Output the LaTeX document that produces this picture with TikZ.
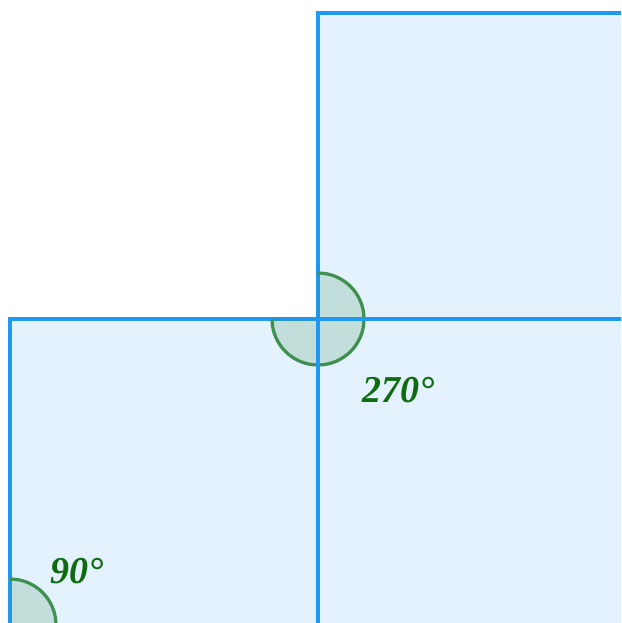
\documentclass[tikz,border=0pt]{standalone}
\usepackage{fontspec}
\setmainfont{Liberation Serif}
\definecolor{sqblue}{HTML}{1E98F2}
\definecolor{sqfill}{HTML}{E3F2FD}
\definecolor{anggreen}{HTML}{3F8F4F}
\definecolor{labgreen}{HTML}{0E6B0E}
\tikzset{
  square/.style={draw=sqblue, fill=sqfill, line width=3pt},
  edge/.style={draw=sqblue, line width=3pt},
  sector/.style={fill=anggreen, fill opacity=0.2},
  arcline/.style={draw=anggreen, line width=2.3pt},
  anglelabel/.style={text=labgreen, font=\fontsize{27}{32}\selectfont\bfseries\itshape}
}
\begin{document}
\begin{tikzpicture}[x=0.025cm, y=0.025cm]
    \useasboundingbox (0,0) rectangle (621,623);
    \clip (0,0) rectangle (621,623);
    % Corners
    \coordinate (O) at (318,304);
    \coordinate (C) at (10,-2);
    \coordinate (E) at (627,304);
    \coordinate (S) at (318,-2);

    % Squares
    \draw[square] (S) rectangle (627,304);
    \draw[square] (C) rectangle (O);
    \draw[square] (O) rectangle (627,610);

    % Angles
    \fill[sector] (O) -- ++(0,46) arc[start angle=90, end angle=-180, radius=46] -- cycle;
    \draw[arcline] (O) ++(0,46) arc[start angle=90, end angle=-180, radius=46];
    \fill[sector] (C) -- ++(46,0) arc[start angle=0, end angle=90, radius=46] -- cycle;
    \draw[arcline] (C) ++(46,0) arc[start angle=0, end angle=90, radius=46];

    % Edges over the angle
    \draw[edge] (O) -- (E);
    \draw[edge] (O) -- (S);

    % Labels
    \node (L270) [anglelabel] at (399,233) {270°};
    \node (L90) [anglelabel] at (77,52) {90°};
\end{tikzpicture}
\end{document}
